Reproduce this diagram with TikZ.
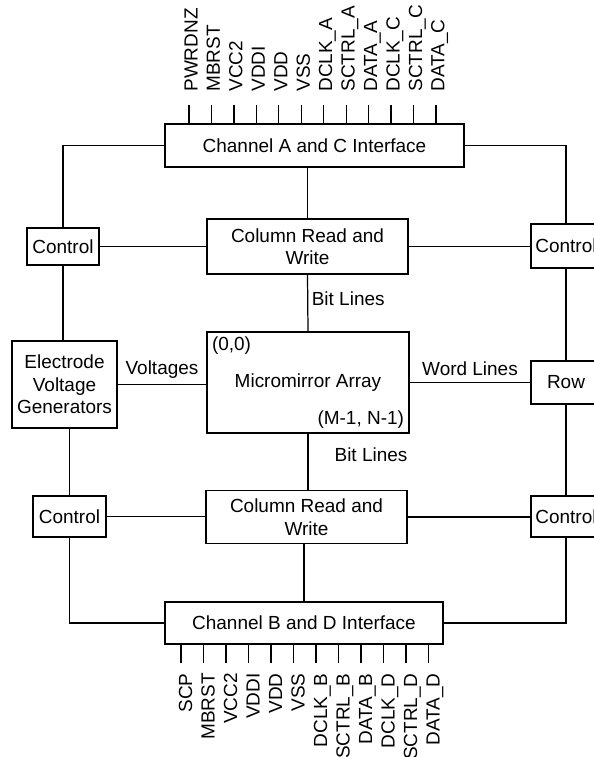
\documentclass[tikz,border=0pt]{standalone}
\usepackage{fontspec}
\setmainfont{Liberation Sans}
\usetikzlibrary{positioning}

\begin{document}
\begin{tikzpicture}[x=0.02cm,y=-0.02cm,font=\fontsize{10.8}{12.8}\selectfont,
block/.style={draw,line width=.7pt,align=center,inner sep=2pt},
wire/.style={line width=.7pt},
pin/.style={inner sep=0pt,rotate=90}]
\useasboundingbox (0,0) rectangle (594,757);
\clip (0,0) rectangle (594,757);

% middle column
\node[block,minimum width=5.98cm,minimum height=.86cm] (ifcAC) at (314.5,145.5) {Channel A and C Interface};
\node[block,minimum width=4.02cm,minimum height=1.1cm] (colTop) at (307.5,246.5) {Column Read and\\Write};
\node[block,minimum width=4.04cm,minimum height=2.02cm] (array) at (308,382.5) {Micromirror Array};
\node[block,minimum width=4.02cm,minimum height=1.05cm] (colBot) at (306.5,517) {Column Read and\\Write};
\node[block,minimum width=5.56cm,minimum height=.84cm] (ifcBD) at (304,623) {Channel B and D Interface};
\node[anchor=north west,inner sep=3pt] (orig) at (array.north west) {(0,0)};
\node[anchor=south east,inner sep=3pt] (last) at (array.south east) {(M-1, N-1)};

% left and right columns
\node[block,minimum width=1.44cm,minimum height=.74cm] (ctlLT) at (63,246.5) {Control};
\node[block,minimum width=2.1cm,minimum height=1.74cm] (evg) at (64.5,384.5) {Electrode\\Voltage\\Generators};
\node[block,minimum width=1.46cm,minimum height=.82cm] (ctlLB) at (69.5,516.5) {Control};
\node[block,minimum width=1.4cm,minimum height=.88cm] (ctlRT) at (566,246) {Control};
\node[block,minimum width=1.4cm,minimum height=.86cm] (row) at (566,382.5) {Row};
\node[block,minimum width=1.4cm,minimum height=.82cm] (ctlRB) at (566,516.5) {Control};

% connections
\draw[wire] (ifcAC.west) -| (ctlLT.north);
\draw[wire] (ifcAC.east) -| (ctlRT.north);
\draw[wire] (colTop.north) -- (colTop.north |- ifcAC.south);
\draw[wire] (ctlLT.east) -- (colTop.west);
\draw[wire] (colTop.east) -- (colTop.east -| ctlRT.west);
\draw[wire] (colTop.south) -- node[right,pos=.42,inner sep=2pt]{Bit Lines} (array.north);
\draw[wire] (ctlLT.south) -- (ctlLT.south |- evg.north);
\draw[wire] (evg.east) -- node[above]{Voltages} (evg.east -| array.west);
\draw[wire] (array.east) -- node[above]{Word Lines} (row.west);
\draw[wire] (ctlRT.south) -- (row.north);
\draw[wire] (row.south) -- (ctlRB.north);
\draw[wire] (ctlLB.north |- evg.south) -- (ctlLB.north);
\draw[wire] (ctlLB.east) -- (ctlLB.east -| colBot.west);
\draw[wire] (colBot.east) -- (colBot.east -| ctlRB.west);
\draw[wire] (array.south) -- node[pos=.38,right=.45cm,inner sep=2pt]{Bit Lines} (array.south |- colBot.north);
\draw[wire] (ifcBD.north |- colBot.south) -- (ifcBD.north);
\draw[wire] (ctlLB.south) |- (ifcBD.west);
\draw[wire] (ctlRB.south) |- (ifcBD.east);

% pins
\foreach \sig [count=\i from 0] in {PWRDNZ,MBRST,VCC2,VDDI,VDD,VSS,DCLK\_A,SCTRL\_A,DATA\_A,DCLK\_C,SCTRL\_C,DATA\_C}{
  \coordinate (pinA\i) at ({189+22.45*\i},105);
  \draw[wire] (pinA\i) -- (pinA\i |- ifcAC.north);
  \node[pin,anchor=base west] (sigA\i) at ({197.5+22.45*\i},92) {\sig};
}
\foreach \sig [count=\i from 0] in {SCP,MBRST,VCC2,VDDI,VDD,VSS,DCLK\_B,SCTRL\_B,DATA\_B,DCLK\_D,SCTRL\_D,DATA\_D}{
  \coordinate (pinB\i) at ({181+22.5*\i},663);
  \draw[wire] (pinB\i |- ifcBD.south) -- (pinB\i);
  \node[pin,anchor=base east] (sigB\i) at ({192+22.5*\i},673) {\sig};
}
\end{tikzpicture}
\end{document}
